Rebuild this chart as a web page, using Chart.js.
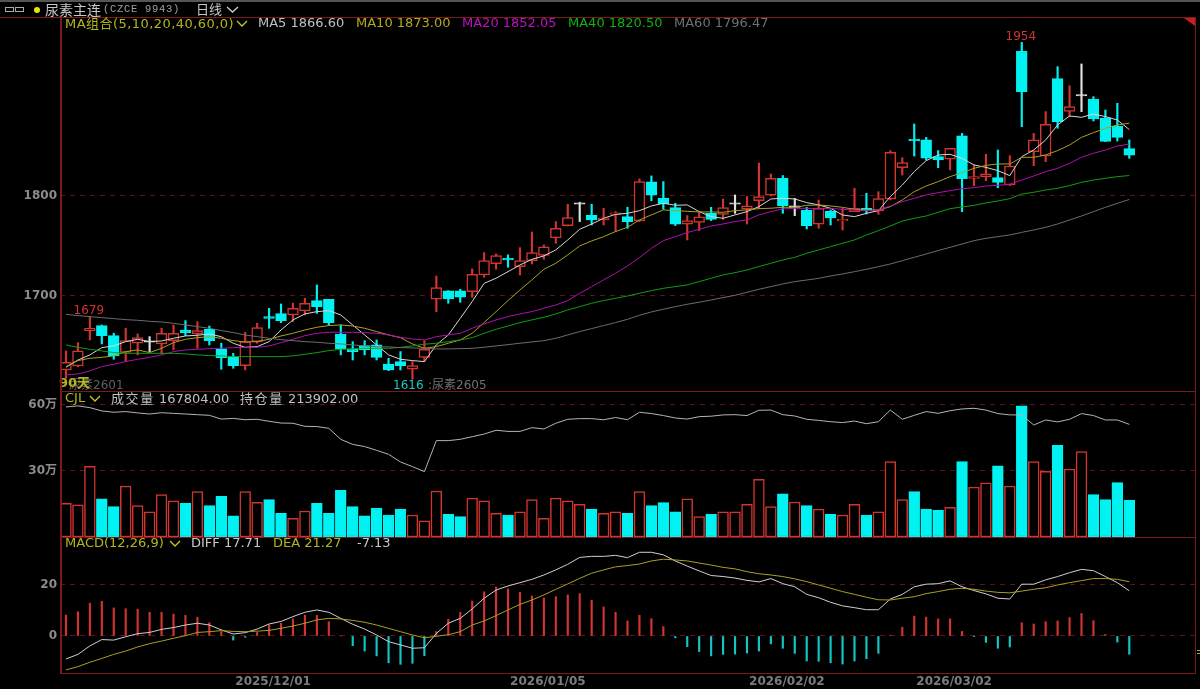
<!DOCTYPE html>
<html>
<head>
<meta charset="utf-8">
<script src="https://cdn.jsdelivr.net/npm/chart.js@4"></script>
<style>
  html, body { margin: 0; background: #000; width: 1200px; height: 689px; overflow: hidden; }
  canvas { position: absolute; left: 0; }
  .line { position: absolute; background: #7c1a1a; }
  .t { position: absolute; white-space: nowrap; font: 13px "DejaVu Sans", "Noto Sans CJK SC", sans-serif; line-height: 14px; z-index: 5; }
  .cjk { font-family: "Noto Sans CJK SC", sans-serif; }
  .chev { position: absolute; z-index: 5; }
</style>
</head>
<body>
<canvas id="price" width="1200" height="374" style="top:17px"></canvas>
<canvas id="vol" width="1200" height="146" style="top:391px"></canvas>
<canvas id="macd" width="1200" height="151" style="top:538px"></canvas>

<div class="line" style="left:0;top:0;width:1200px;height:2px;background:#555"></div>
<div class="line" style="left:0;top:17px;width:1196px;height:1px"></div>
<div class="line" style="left:60px;top:391px;width:1136px;height:1px"></div>
<div class="line" style="left:60px;top:537px;width:1136px;height:1px"></div>
<div class="line" style="left:60px;top:673px;width:1136px;height:1px"></div>
<div class="line" style="left:60px;top:17px;width:2px;height:657px"></div>
<div class="line" style="left:1195px;top:17px;width:1px;height:657px"></div>
<div style="position:absolute;left:1184px;top:18px;width:11px;height:8px;background:#c81e1e;clip-path:polygon(0 0,100% 0,100% 100%)"></div>
<div style="position:absolute;left:1197px;top:650px;width:3px;height:1px;background:#b4b41e"></div>
<div style="position:absolute;left:1197px;top:653px;width:3px;height:1px;background:#b4b41e"></div>

<!-- title row -->
<div style="position:absolute;left:5px;top:7px;width:7px;height:3px;border:1px solid #aaa"></div>
<div style="position:absolute;left:15px;top:7px;width:7px;height:3px;border:1px solid #aaa"></div>
<div style="position:absolute;left:34px;top:7px;width:6px;height:6px;border-radius:3px;background:#e6e600"></div>
<div class="t cjk" style="left:45px;top:2px;color:#c8c8c8;font-size:14px">尿素主连</div>
<div class="t" style="left:103px;top:3px;color:#a0a0a0;font:10.5px 'Liberation Mono',monospace;letter-spacing:.7px">(CZCE 9943)</div>
<div class="t cjk" style="left:196px;top:2px;color:#c8c8c8;font-size:13px">日线</div>
<svg class="chev" style="left:226px;top:6px" width="13" height="8"><polyline points="1,1 6.5,6 12,1" fill="none" stroke="#ccc" stroke-width="1.3"/></svg>

<!-- price pane header -->
<div class="t" style="left:65px;top:16px;color:#b4b41e;letter-spacing:.45px">MA<span class="cjk">组合</span>(5,10,20,40,60,0)</div>
<svg class="chev" style="left:236px;top:20px" width="12" height="8"><polyline points="1,1 6,6 11,1" fill="none" stroke="#c8c820" stroke-width="1.3"/></svg>
<div class="t" style="left:258px;top:16px;color:#c0c0c0">MA5 1866.60</div>
<div class="t" style="left:356px;top:16px;color:#b4aa1e">MA10 1873.00</div>
<div class="t" style="left:462px;top:16px;color:#c010c0">MA20 1852.05</div>
<div class="t" style="left:568px;top:16px;color:#10b010">MA40 1820.50</div>
<div class="t" style="left:674px;top:16px;color:#707070">MA60 1796.47</div>

<!-- volume pane header -->
<div class="t" style="left:65px;top:391px;color:#b4b41e">CJL</div>
<svg class="chev" style="left:89px;top:395px" width="12" height="8"><polyline points="1,1 6,6 11,1" fill="none" stroke="#c8c820" stroke-width="1.3"/></svg>
<div class="t" style="left:111px;top:391px;color:#c0c0c0"><span class="cjk" style="letter-spacing:1.6px">成交量</span> 167804.00</div>
<div class="t" style="left:240px;top:391px;color:#c0c0c0"><span class="cjk" style="letter-spacing:1.6px">持仓量</span> 213902.00</div>

<!-- macd pane header -->
<div class="t" style="left:65px;top:536px;color:#b4b41e">MACD(12,26,9)</div>
<svg class="chev" style="left:169px;top:540px" width="12" height="8"><polyline points="1,1 6,6 11,1" fill="none" stroke="#c8c820" stroke-width="1.3"/></svg>
<div class="t" style="left:191px;top:536px;color:#c8c8c8">DIFF 17.71</div>
<div class="t" style="left:273px;top:536px;color:#b4b41e">DEA 21.27</div>
<div class="t" style="left:357px;top:536px;color:#c8c8c8">-7.13</div>

<script>
// ── Data ──────────────────────────────────────────────
const opens = [1625.5,1629.5,1665,1670,1659.9,1643.2,1652.3,1653.3,1651.6,1654.9,
  1665.6,1661.6,1666.3,1646.6,1638.9,1629.9,1653.9,1679,1682,1680.7,
  1684.7,1695,1696.4,1661.6,1646.6,1649.9,1650.6,1631.5,1633.9,1626.2,
  1638.2,1696.4,1704.8,1704.8,1704.1,1720.8,1732.2,1737.5,1729.2,1735.2,
  1740.5,1757.9,1770.3,1791.7,1780.6,1776.3,1781.6,1779.3,1775,1814.1,
  1798,1788.3,1771.6,1773.6,1782.6,1781.6,1791.7,1786.7,1795.3,1800.7,
  1817.7,1788.6,1785.9,1771.6,1784.6,1774.9,1784.3,1787.6,1784.9,1797,
  1828.4,1856.8,1856.2,1839.4,1836.8,1860.2,1817.7,1819.4,1818.4,1811,
  1945.4,1844.5,1840.1,1917.7,1884.9,1900.3,1897.3,1878.2,1870.2,1847.5];
const highs = [1644.6,1652.9,1679,1670.6,1662.3,1667.3,1661.6,1658.9,1667.3,1670.6,
  1675,1674,1669.6,1652.3,1642.2,1663.3,1672.3,1687.4,1691.7,1692.4,
  1697.4,1710.8,1696.4,1670.6,1653.9,1654.9,1655.6,1637.2,1643.9,1634,
  1654.9,1719.8,1705.1,1706.4,1726.8,1743.2,1741.9,1740.9,1748.2,1763.9,
  1750.9,1774.3,1791.7,1793.7,1791.7,1787.7,1784.3,1788.7,1817.1,1820.1,
  1814.4,1792.7,1780.3,1783.3,1788.7,1797,1801,1799.4,1833,1822.1,
  1820.5,1797.6,1788.6,1796,1785.9,1787.6,1807.7,1802.7,1804.3,1845.5,
  1838.4,1872.2,1858.8,1845.5,1847.8,1862.8,1831.1,1841.8,1846.1,1840.4,
  1954,1862.8,1884.6,1929.7,1910.6,1932.4,1899.6,1886.2,1892.9,1856.2];
const lows = [1617,1628.8,1655.6,1651.6,1636.2,1633.9,1640.6,1643.9,1641.6,1645.6,
  1659.9,1647.2,1650.6,1626.2,1627.2,1625.5,1652.3,1667.3,1673,1674,
  1680.7,1682.3,1670.6,1640.6,1635.5,1640.6,1635.5,1624.8,1625.5,1616,
  1633.9,1684,1692.4,1693.4,1698.4,1718.5,1726.5,1728.5,1720.8,1731.8,
  1736.5,1752.6,1769.9,1774.3,1770.9,1770.9,1764.3,1767.6,1774.3,1795.3,
  1786.7,1770.3,1755.9,1765.3,1775.3,1776.6,1782.6,1771.9,1787.7,1800,
  1782.6,1780.3,1766.9,1767.6,1770.9,1765.9,1784.3,1781.9,1781.6,1796,
  1821,1840.1,1836.1,1828.4,1826.1,1784.3,1810.4,1815.4,1808.3,1810.4,
  1869.5,1830.4,1834.4,1867.9,1879.6,1884.6,1875.2,1854.5,1855.1,1837.8];
const closes = [1633.2,1644.6,1667.3,1659.9,1639.6,1654.9,1657.9,1653.3,1662.3,1662.3,
  1663,1665,1654.9,1637.9,1629.9,1653.9,1668,1677.3,1675,1687.4,
  1692.4,1689,1673,1646.6,1643.9,1645.6,1638.2,1625.5,1629.9,1629.9,
  1646.2,1708.1,1696.7,1698.4,1721.5,1735.2,1740.2,1735.8,1735.2,1743.2,
  1748.9,1767.6,1778.3,1791.7,1776.3,1778,1783,1774.3,1814.4,1800.7,
  1792,1771.6,1775.3,1779,1776.6,1788.3,1791.7,1790,1799.4,1817.7,
  1790,1788.6,1770.2,1787.6,1777.9,1776.6,1787.6,1784.9,1797.3,1843.8,
  1833.4,1855.1,1837.8,1836.1,1847.8,1817.4,1819.4,1822.1,1813.7,1830.1,
  1904.6,1856.2,1871.9,1874.5,1889.6,1900.3,1877.2,1854.8,1858.8,1840.8];

const ma5 = [1628.2,1635.5,1640.6,1647.9,1649.6,1653.9,1656.3,1653.9,1654.6,1657.3,
  1659.6,1660.3,1661.6,1658.9,1652.3,1648.2,1648.9,1653.9,1665.6,1675.7,
  1681.7,1684,1685,1680.7,1670.6,1660.6,1650.6,1640.6,1636.2,1634.9,
  1633.9,1650.6,1660.6,1677.3,1694.1,1712.4,1717.5,1724.1,1730.8,1736.5,
  1739.9,1745.9,1755.9,1766.6,1771.9,1777.6,1781.6,1782.6,1785.3,1790,
  1792.7,1790.7,1791,1784.3,1779.3,1777.6,1781,1784.3,1789.3,1797,
  1797.7,1797,1793.3,1791,1787.6,1780.9,1779.3,1782.6,1785.3,1799.3,
  1811,1824.4,1835.4,1841.1,1841.8,1837.8,1831.1,1828.7,1825.4,1820.4,
  1839.4,1846.1,1856.2,1871.2,1880.2,1878.9,1882.2,1879.6,1876.2,1866.6];
const ma10 = [1628.9,1634.9,1637.2,1638.2,1639.6,1643.9,1645.6,1642.9,1647.2,1652.9,
  1656.3,1657.9,1658.9,1657.3,1654.9,1653.6,1653.9,1656.3,1659.6,1662.3,
  1665.6,1668.3,1670,1670.6,1669.6,1667.3,1664,1660.6,1657.9,1651.6,
  1647.2,1648.9,1652.3,1655.6,1662.3,1673,1684,1695.1,1705.8,1715.8,
  1726.5,1732.5,1740.9,1749.9,1754.9,1759.2,1764.3,1768.6,1776,1781,
  1786,1785.3,1784.6,1784,1784,1783.6,1785.3,1786,1787.3,1787.7,
  1788.7,1788.6,1790.6,1791,1790,1788.6,1786.6,1785.9,1785.9,1789.3,
  1796,1804.3,1810,1814.4,1819.4,1823.4,1827.7,1830.7,1832.1,1832.1,
  1838.8,1838.8,1841.1,1845.5,1851.1,1858.8,1863.5,1867.9,1871.2,1873];
const ma20 = [1620.5,1621.5,1624.5,1628.9,1631.2,1633.9,1636.2,1638.2,1640.6,1643.9,
  1645.6,1646.2,1646.9,1647.2,1647.9,1648.2,1648.2,1649.6,1652.9,1656.3,
  1659.9,1662.3,1663.3,1663.3,1663.3,1662.9,1662.3,1660.6,1658.3,1656.6,
  1655.6,1658.9,1660.6,1662.3,1667.3,1671.7,1675.7,1679,1681.7,1684,
  1687.4,1690.7,1695.1,1702.4,1709.1,1715.8,1722.5,1729.8,1738.2,1747.5,
  1755.2,1759.2,1763.3,1766.6,1769.9,1771.9,1774.3,1776,1781,1784.3,
  1787,1787.6,1787.6,1787.3,1787.6,1786.6,1785.9,1785.3,1785.9,1790,
  1794.3,1797.6,1801,1803.3,1805.3,1807.3,1808.3,1810,1810.7,1811.7,
  1816,1820,1824.4,1827.7,1832.8,1838.8,1842.8,1846.1,1850.1,1852.05];
const ma40 = [1650.6,1648.2,1646.2,1644.6,1642.9,1642.2,1642.2,1642.2,1642.2,1642.2,
  1641.6,1640.6,1639.9,1639.6,1638.9,1638.9,1638.9,1638.9,1638.9,1639.6,
  1641.2,1642.9,1644.9,1646.2,1646.6,1647.2,1647.2,1647.2,1648.2,1649.6,
  1651.3,1652.3,1653.9,1655.6,1657.9,1662.3,1666.3,1669.6,1673,1675.7,
  1678.3,1681.7,1685.7,1689,1692.4,1695.1,1697.4,1699.7,1702.4,1705.1,
  1707.4,1709.1,1710.8,1714.1,1717.5,1720.8,1723.1,1725.8,1729.2,1732.5,
  1735.8,1738.5,1742.5,1745.9,1749.2,1752.6,1755.9,1760.9,1765.2,1769.9,
  1774.9,1777.6,1779.9,1783.6,1787.3,1789,1790.6,1793,1795,1797.3,
  1802,1803.7,1806,1807.7,1810.4,1813.7,1816,1817.7,1819.4,1820.5];
const ma60 = [1681.3,1680,1679,1678,1677,1676,1675.3,1674.3,1673.6,1672.3,
  1670.6,1669,1667.3,1665,1663,1660.6,1658.9,1657.3,1655.9,1654.9,
  1653.9,1653.3,1652.3,1651.6,1650.6,1649.6,1648.9,1648.6,1647.9,1647.6,
  1647.2,1646.6,1646.6,1646.9,1647.2,1648.3,1649.6,1650.9,1652.3,1653.6,
  1654.9,1657.3,1660.6,1664,1667,1670,1673,1676.3,1680.3,1683.7,
  1686.4,1689,1691.4,1693.4,1695.7,1698.1,1700.4,1703.4,1706.4,1709.1,
  1711.8,1714.1,1715.7,1717.4,1719.8,1721.8,1724.1,1726.5,1729.1,1731.8,
  1735.1,1738.5,1741.8,1745.2,1748.5,1751.8,1755.2,1757.5,1759.2,1760.9,
  1763.5,1765.9,1768.6,1771.9,1775.9,1779.9,1784.3,1788.6,1792.6,1796.47];

// volume and open interest, in 万
const volumes = [15.3,14.6,32.1,17.4,13.8,23.1,14.3,11.4,19.3,16.4,
  15.3,20.6,14.3,18.5,9.6,20.6,15.8,17,10.8,8.5,
  11.8,15.3,10.8,21.2,13.8,9.6,13.2,10,12.7,10,
  7.4,20.9,10.3,9.3,17.7,16.4,10.8,10,11.4,17,
  8.5,17.7,16.4,14.9,12.7,10.8,11.4,10.8,20.6,14.3,
  15.6,11.4,17.4,9.3,10.3,11.4,11.4,14.9,26.2,13.8,
  19.6,15.9,14.3,12.7,10.3,10,14.9,10,11.4,34.3,
  17,20.6,12.7,12.1,13.5,34.3,22.7,24.6,32.4,23.1,
  59.6,34.3,29.9,41.7,30.9,38.8,19.3,17,24.7,16.78];
const openInterest = [59.1,59.6,58.8,57.3,56.7,57,56.4,55.9,56.5,56.2,
  55.9,55.6,55.3,53.6,53.9,53.3,53.5,52.6,51.8,51.7,
  50.3,50.2,49.4,44.4,42.1,41.1,39.4,37.6,34.1,32,
  29.7,43.8,43.8,44.4,45.6,46.8,48.5,48,48,49.7,
  49.1,51.7,53.5,53.8,53.8,53.3,54.3,53.3,56.7,56.1,
  55.2,54.1,53.6,54.7,54.9,55.5,55.6,55.2,57.6,57.7,
  55.6,55,53.5,53,52.4,52,52.7,51.5,52.4,57.7,
  53.5,55.3,57,56.2,57.4,58.2,58.5,57.7,56.1,55.5,
  55.5,50.9,53.2,52.3,53.5,56.1,55.2,53.2,53.2,51.2];

const macdHist = [8.2,9.5,12.8,13.6,11,10.7,10.5,9.3,9.3,8.6,
  8.1,7.4,5.2,1.7,-1.6,-0.5,1.4,4.3,5,6.7,
  8.2,8.1,5.6,0,-3.8,-5.9,-7.8,-10.5,-11.1,-10.7,
  -7.7,1.7,6.5,9.3,13.7,17.3,19.2,18.4,17.1,15.7,
  14.9,15.4,16.1,16.6,14,11.4,9.3,5.9,8.1,6.8,
  3.7,-0.7,-4.2,-6.1,-7.8,-7.2,-7.1,-6.7,-5.9,-3.1,
  -4.8,-6.8,-9.8,-9.9,-10.5,-11,-9.8,-8.9,-6.8,0.3,
  3.4,7.8,7.4,6.7,6.7,1.8,-0.1,-2.5,-4.8,-4.3,
  5.2,4.7,5.6,5.9,7.2,8.8,6,0.6,-2.4,-7.13];
const diff = [-9,-7.2,-3.9,-1.4,-1.6,-0.3,0.9,1.4,2.6,3.3,
  4.3,5,4.3,2.4,0.8,1.3,2.7,4.7,5.7,7.6,
  9.3,10.2,9.3,6.9,4.6,2.7,0.4,-2.2,-3.5,-4.8,
  -4.6,1,5,6.9,10.6,14.8,18,19.6,20.9,22.2,
  23.9,25.9,28.1,30.8,31.2,31.2,31.6,30.7,32.8,32.8,
  31.8,29.4,27.4,25.5,23.7,23.3,22.7,21.8,21.2,22.5,
  20.5,19.3,16.3,15,13.2,11.8,11.1,10.3,10.3,14.5,
  16.3,19.3,20.3,20.5,21.6,19.3,17.8,16.5,14.8,14.5,
  20.3,20.3,22,23.3,24.8,26.1,25.6,23.3,20.9,17.71];
const dea = [-13.3,-12,-10.3,-8.8,-7.2,-5.9,-4.3,-3,-2,-0.9,
  0.1,1.4,1.7,2.1,1.8,1.7,1.9,2.2,3,3.9,
  5,6.3,6.9,6.7,6.1,5.4,4.3,3,1.7,0.4,
  -0.7,-0.1,0.5,1.7,4.3,5.9,8,10.2,12.4,14.1,
  16.1,18.3,20.4,22.6,24.6,25.9,27.1,27.6,28.2,29.4,
  30.1,29.8,29.4,28.6,27.8,26.9,26.3,25.2,24.4,23.9,
  23.3,22.4,21.3,20,18.7,17.4,16.3,15.2,14.2,14.1,
  14.8,15.4,16.6,17.4,18.3,18.7,18.3,17.6,17.1,16.9,
  17.6,18.3,18.9,20,20.9,21.7,22.5,22.5,22.2,21.27];

const priceTicks = [1700, 1800];
const volTicks = [30, 60];
const macdTicks = [0, 20];
const dateIndex = [17, 40, 60, 74];
const dateLabels = ['2025/12/01', '2026/01/05', '2026/02/02', '2026/03/02'];

// ── Shared look ───────────────────────────────────────
const RED = '#d2342f';
const CYAN = '#00f2f2';
const SLOTS = 95; // room left empty on the right of the last bar
const slotLabels = Array.from({ length: SLOTS }, (_, i) => String(i));
const candleColor = i => closes[i] === opens[i] ? '#e0e0e0' : (closes[i] > opens[i] ? RED : CYAN);

Chart.defaults.animation = false;
Chart.defaults.font.family = "'DejaVu Sans', 'Noto Sans CJK SC', sans-serif";

function noPadding(s) {
  s.paddingTop = s.paddingBottom = s.paddingLeft = s.paddingRight = 0;
}

function yAxis(min, max, ticks, fmt) {
  return {
    position: 'left', min, max,
    afterFit(s) { s.width = 60; noPadding(s); },
    afterBuildTicks(s) { s.ticks = ticks.map(value => ({ value })); },
    border: { display: false, dash: [5, 5] },
    grid: { color: '#5e1414', lineWidth: 1, drawTicks: false },
    ticks: { color: '#8c8c8c', padding: 3, font: { size: 12, weight: 'bold' }, callback: fmt },
  };
}

function xAxis(show) {
  return {
    offset: true,
    display: show,
    afterFit(s) { s.height = show ? 16 : 0; noPadding(s); },
    grid: { display: false, drawTicks: false },
    border: { display: false },
    ticks: {
      autoSkip: false, maxRotation: 0, padding: 2, labelOffset: 4,
      color: '#7c7c7c', font: { size: 12, weight: 'bold' },
      callback(v, i) { const k = dateIndex.indexOf(i); return k < 0 ? '' : dateLabels[k]; },
    },
  };
}

const baseOptions = (scales) => ({
  responsive: false,
  devicePixelRatio: 1,
  layout: { padding: { right: 5 } },
  plugins: { legend: { display: false }, tooltip: { enabled: false } },
  scales,
});

const lineSet = (data, color, order = 1, yAxisID = 'y') => ({
  type: 'line', data, borderColor: color, borderWidth: 1, pointRadius: 0, tension: 0, order, yAxisID,
});

// ── Price labels, anchored to the scales ──────────────
const priceNotes = {
  id: 'priceNotes',
  afterDatasetsDraw(chart) {
    const { ctx, scales: { x, y } } = chart;
    const put = (text, px, py, color, font) => {
      ctx.fillStyle = color;
      ctx.font = font;
      ctx.fillText(text, px, py);
    };
    const f = "12px 'DejaVu Sans', 'Noto Sans CJK SC', sans-serif";
    ctx.save();
    ctx.textBaseline = 'middle';
    ctx.textAlign = 'center';
    put('1679', x.getPixelForValue(2) - 1, y.getPixelForValue(1679) - 6, RED, f);
    put('1954', x.getPixelForValue(80) - 1, y.getPixelForValue(1954) - 6, RED, f);
    ctx.textAlign = 'left';
    put('1616', 393, y.getPixelForValue(1616) + 6, '#14c8c8', f);
    put(':尿素2605', 428, y.getPixelForValue(1616) + 6, '#707070', f);
    put('尿素2601', 69, y.getPixelForValue(1616) + 6, '#606060', f);
    put('90天', 59, y.getPixelForValue(1616) + 4, '#b4b41e', "bold 13px 'DejaVu Sans', 'Noto Sans CJK SC', sans-serif");
    ctx.restore();
  },
};

// ── Candles + moving averages ─────────────────────────
new Chart(document.getElementById('price'), {
  type: 'bar',
  data: {
    labels: slotLabels,
    datasets: [
      lineSet(ma60, '#6c6c6c'),
      lineSet(ma40, '#129c12'),
      lineSet(ma20, '#b010b0'),
      lineSet(ma10, '#aaa022'),
      lineSet(ma5, '#d6d6d6'),
      {
        data: opens.map((o, i) => [o, closes[i]]),
        grouped: false, barThickness: 10.8, minBarLength: 1.5, borderSkipped: false, borderWidth: 1.5,
        borderColor: opens.map((_, i) => candleColor(i)),
        backgroundColor: opens.map((_, i) => closes[i] > opens[i] ? '#000' : candleColor(i)),
        order: 2,
      },
      {
        data: lows.map((l, i) => [l, highs[i]]),
        grouped: false, barThickness: 1.5, borderWidth: 0,
        backgroundColor: lows.map((_, i) => candleColor(i)),
        order: 3,
      },
    ],
  },
  options: baseOptions({
    x: xAxis(false),
    y: yAxis(1604.4, 1979.5, priceTicks, v => String(v)),
  }),
  plugins: [priceNotes],
});

// ── Volume + open interest ────────────────────────────
new Chart(document.getElementById('vol'), {
  type: 'bar',
  data: {
    labels: slotLabels,
    datasets: [
      lineSet(openInterest, '#b4b4b4'),
      {
        data: volumes,
        barThickness: 10.8, borderSkipped: false, borderWidth: 1.5,
        borderColor: volumes.map((_, i) => closes[i] >= opens[i] ? RED : CYAN),
        backgroundColor: volumes.map((_, i) => closes[i] >= opens[i] ? '#000' : CYAN),
        order: 2,
      },
    ],
  },
  options: baseOptions({
    x: xAxis(false),
    y: yAxis(0, 66.36, volTicks, v => v + '万'),
  }),
});

// ── MACD ──────────────────────────────────────────────
new Chart(document.getElementById('macd'), {
  type: 'bar',
  data: {
    labels: slotLabels,
    datasets: [
      lineSet(dea, '#aaa022'),
      lineSet(diff, '#cfcfcf'),
      {
        data: macdHist,
        barThickness: 1.5, borderWidth: 0,
        backgroundColor: macdHist.map(v => v >= 0 ? RED : '#12c6c6'),
        order: 2,
      },
    ],
  },
  options: baseOptions({
    x: xAxis(true),
    y: yAxis(-14.5, 38.4, macdTicks, v => String(v)),
  }),
});
</script>
</body>
</html>
